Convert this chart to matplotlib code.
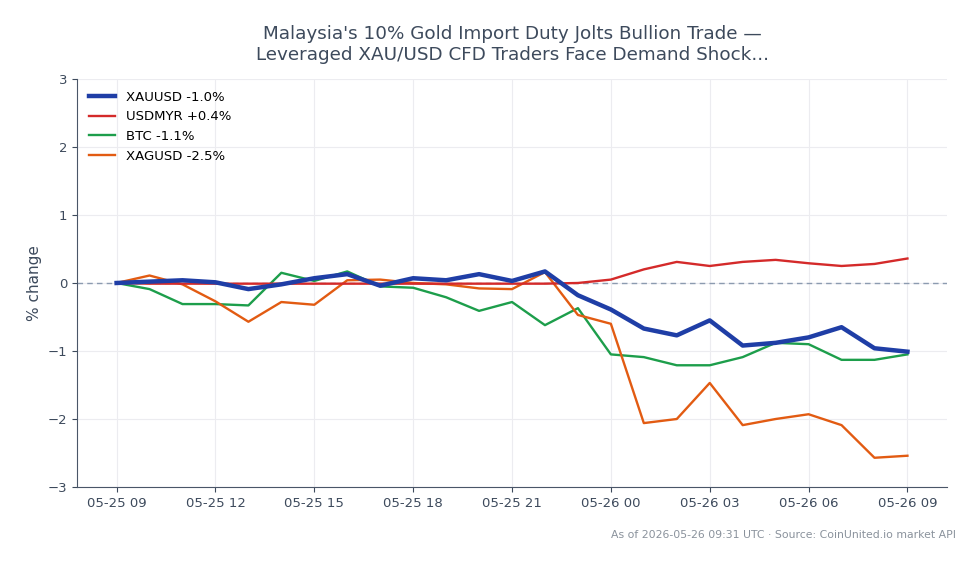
import pandas as pd
import matplotlib.pyplot as plt
import matplotlib.dates as mdates

# hourly timestamps, 05-25 09:00 -> 05-26 09:00 UTC
times = pd.date_range('2026-05-25 09:00', '2026-05-26 09:00', freq='h')

xauusd = [0.00, 0.02, 0.04, 0.01, -0.09, -0.02, 0.07, 0.13, -0.04, 0.07, 0.04, 0.13, 0.03,
          0.17, -0.18, -0.39, -0.67, -0.77, -0.55, -0.92, -0.88, -0.80, -0.65, -0.96, -1.01]
usdmyr = [0.00, -0.01, -0.01, -0.01, -0.01, -0.01, -0.01, -0.01, -0.01, -0.01, -0.01, -0.01, -0.01,
          -0.01, 0.00, 0.05, 0.20, 0.31, 0.25, 0.31, 0.34, 0.29, 0.25, 0.28, 0.36]
btc = [0.00, -0.09, -0.31, -0.31, -0.33, 0.15, 0.03, 0.17, -0.05, -0.07, -0.21, -0.41, -0.28,
       -0.62, -0.37, -1.05, -1.09, -1.21, -1.21, -1.09, -0.88, -0.90, -1.13, -1.13, -1.05]
xagusd = [0.00, 0.11, -0.02, -0.27, -0.57, -0.28, -0.32, 0.04, 0.05, 0.00, -0.02, -0.08, -0.09,
          0.16, -0.47, -0.60, -2.06, -2.00, -1.47, -2.09, -2.00, -1.93, -2.09, -2.57, -2.54]

df = pd.DataFrame({'XAUUSD': xauusd, 'USDMYR': usdmyr, 'BTC': btc, 'XAGUSD': xagusd}, index=times)

fig = plt.figure(figsize=(9.79, 5.64), dpi=100)
ax = fig.add_axes([0.0787, 0.1365, 0.8886, 0.7235])

text_col = '#3d4a5c'
ax.axhline(0, color='#8c9bb0', linestyle='--', linewidth=1, dashes=(4, 3), zorder=1)

ax.plot(df.index, df['XAUUSD'], color='#1f3ea6', linewidth=3.2, label='XAUUSD -1.0%', zorder=5)
ax.plot(df.index, df['USDMYR'], color='#d42a2a', linewidth=1.7, label='USDMYR +0.4%', zorder=4)
ax.plot(df.index, df['BTC'], color='#1d9e4b', linewidth=1.7, label='BTC -1.1%', zorder=3)
ax.plot(df.index, df['XAGUSD'], color='#e25b12', linewidth=1.7, label='XAGUSD -2.5%', zorder=3)

ax.set_ylim(-3, 3)
ax.set_yticks([-3, -2, -1, 0, 1, 2, 3])
ax.xaxis.set_major_locator(mdates.HourLocator(byhour=[0, 3, 6, 9, 12, 15, 18, 21]))
ax.xaxis.set_major_formatter(mdates.DateFormatter('%m-%d %H'))

ax.grid(True, color='#ececf0', linewidth=0.8)
ax.set_axisbelow(True)
for s in ['top', 'right']:
    ax.spines[s].set_visible(False)
for s in ['left', 'bottom']:
    ax.spines[s].set_color('#4a5668')
ax.tick_params(colors=text_col, labelsize=9.5)

ax.set_ylabel('% change', fontsize=11, color=text_col)
ax.set_title("Malaysia's 10% Gold Import Duty Jolts Bullion Trade —\nLeveraged XAU/USD CFD Traders Face Demand Shock...",
             fontsize=13.2, color=text_col, pad=14)
ax.legend(loc='upper left', frameon=False, fontsize=9.5)

fig.text(0.976, 0.052, 'As of 2026-05-26 09:31 UTC · Source: CoinUnited.io market API',
         ha='right', va='center', fontsize=7.8, color='#8a929c')

fig.savefig('out.png', dpi=100)
